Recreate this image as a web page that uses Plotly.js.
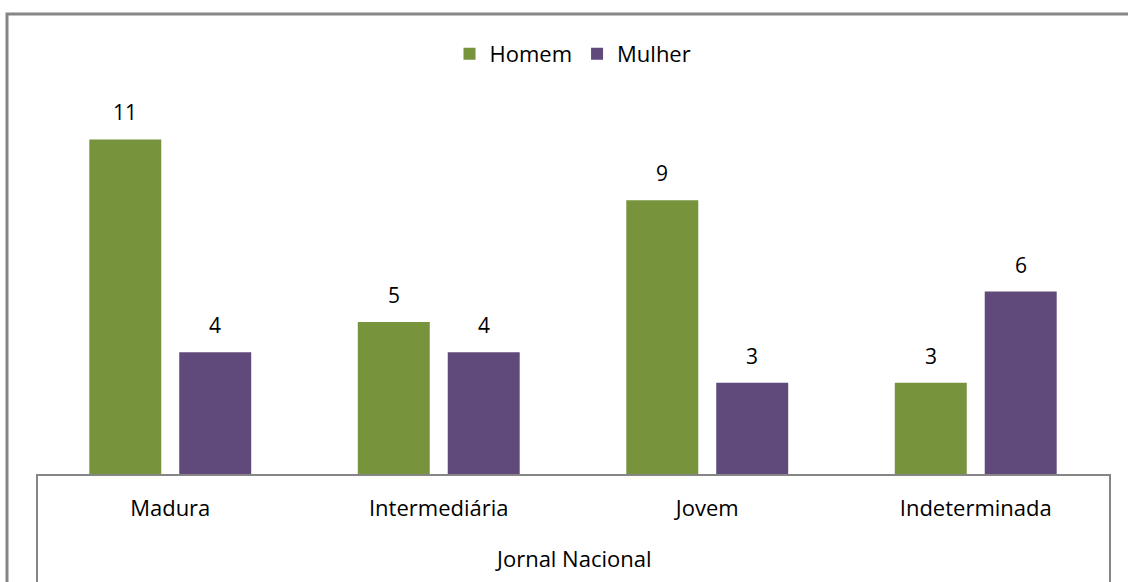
<!DOCTYPE html>
<html>
<head>
<meta charset="utf-8">
<script src="https://cdn.plot.ly/plotly-3.0.1.min.js"></script>
<style>html,body{margin:0;padding:0;background:#fff;}#chart{width:1128px;height:582px;}</style>
</head>
<body>
<div id="chart"></div>
<script>
var categories = ["Madura", "Intermediária", "Jovem", "Indeterminada"];
var homem = [11, 5, 9, 3];
var mulher = [4, 4, 3, 6];
var seriesNames = ["Homem", "Mulher"];
var groupTitle = "Jornal Nacional";

var W = 1128, H = 582;
var mL = 36, mR = 18, mT = 109, mB = 108;
var plotW = W - mL - mR, plotH = H - mT - mB;
function px2x(px){ return (px - mL) / plotW; }
function py2y(py){ return (H - mB - py) / plotH; }

var fontFam = "'Open Sans', 'Liberation Sans', sans-serif";
var gray = "#868686";
var fs = 22;

var traces = [
  {type:"bar", name:seriesNames[0], x:categories, y:homem, marker:{color:"#77933C"}, hoverinfo:"none"},
  {type:"bar", name:seriesNames[1], x:categories, y:mulher, marker:{color:"#604A7B"}, hoverinfo:"none"}
];

var annotations = [];
categories.forEach(function(c, i){
  annotations.push({x:c, y:homem[i], xref:"x", yref:"y", text:String(homem[i]), showarrow:false,
    xshift:-45, yshift:27, yanchor:"middle", font:{size:fs-1, color:"#000", family:fontFam}});
  annotations.push({x:c, y:mulher[i], xref:"x", yref:"y", text:String(mulher[i]), showarrow:false,
    xshift:45, yshift:27, yanchor:"middle", font:{size:fs-1, color:"#000", family:fontFam}});
});
annotations.push({x:0.5, y:py2y(558), xref:"paper", yref:"paper", text:groupTitle, showarrow:false,
  xanchor:"center", yanchor:"middle", font:{size:fs, color:"#000", family:fontFam}});

var shapes = [
  {type:"line", xref:"paper", yref:"paper", x0:px2x(37), x1:px2x(37), y0:0, y1:py2y(600), line:{color:gray, width:2}},
  {type:"line", xref:"paper", yref:"paper", x0:px2x(1110), x1:px2x(1110), y0:0, y1:py2y(600), line:{color:gray, width:2}},
  {type:"rect", xref:"paper", yref:"paper", x0:px2x(7), x1:px2x(1200), y0:py2y(14), y1:py2y(650), line:{color:gray, width:3}, fillcolor:"rgba(0,0,0,0)"}
];

var layout = {
  width:W, height:H,
  margin:{l:mL, r:mR, t:mT, b:mB, pad:0},
  paper_bgcolor:"#fff", plot_bgcolor:"#fff",
  barmode:"group", bargap:0.33, bargroupgap:0.2,
  showlegend:true,
  legend:{orientation:"h", x:0.5, xanchor:"center", y:py2y(54), yanchor:"middle",
    font:{size:fs, color:"#000", family:fontFam}, traceorder:"normal", itemwidth:30},
  xaxis:{showline:true, linecolor:gray, linewidth:2, ticks:"", showgrid:false, zeroline:false,
    tickfont:{size:fs, color:"#000", family:fontFam}, ticklabelstandoff:14, fixedrange:true},
  yaxis:{range:[0,12], visible:false, showgrid:false, zeroline:false, fixedrange:true},
  annotations:annotations,
  shapes:shapes,
  font:{family:fontFam}
};

Plotly.newPlot("chart", traces, layout, {displayModeBar:false, staticPlot:true});
</script>
</body>
</html>
